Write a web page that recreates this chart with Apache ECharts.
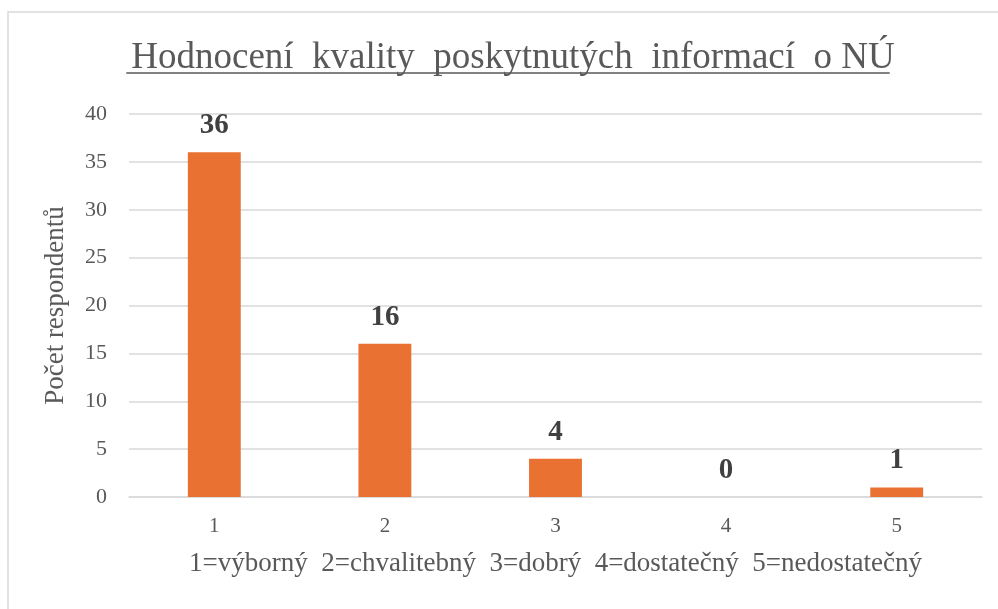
<!DOCTYPE html>
<html>
<head>
<meta charset="utf-8">
<script src="https://cdn.jsdelivr.net/npm/echarts@6/dist/echarts.min.js"></script>
<style>
  html, body { margin: 0; padding: 0; background: #fff; }
  #chart { width: 998px; height: 609px; }
</style>
</head>
<body>
<div id="chart"></div>
<script>
const titleText = 'Hodnocení  kvality  poskytnutých  informací  o NÚ';
const categories = ['1', '2', '3', '4', '5'];
const values = [36, 16, 4, 0, 1];
const yTicks = { min: 0, max: 40, interval: 5 };
const xName = '1=výborný  2=chvalitebný  3=dobrý  4=dostatečný  5=nedostatečný';
const yName = 'Počet respondentů';

const font = '"Liberation Serif", "Times New Roman", serif';
const textColor = '#595959';
const titleSize = 37;

// width of title for the underline
function textWidth(str, size) {
    const ctx = document.createElement('canvas').getContext('2d');
    ctx.font = size + 'px ' + font;
    return ctx.measureText(str).width;
}

const chart = echarts.init(document.getElementById('chart'));
const tw = textWidth(titleText, titleSize);
const cx = 508;

const option = {
    backgroundColor: '#fff',
    animation: false,
    title: {
        text: titleText,
        left: cx,
        textAlign: 'center',
        top: 35,
        textStyle: {
            fontFamily: font,
            fontSize: titleSize,
            fontWeight: 'normal',
            color: textColor
        }
    },
    graphic: [
        {
            type: 'rect',
            shape: { x: 8, y: 12, width: 1200, height: 1200 },
            style: { fill: null, stroke: '#D9D9D9', lineWidth: 1.5 },
            silent: true
        },
        {
            type: 'line',
            shape: { x1: cx - tw / 2, y1: 73, x2: cx + tw / 2, y2: 73 },
            style: { stroke: textColor, lineWidth: 1.5 },
            silent: true
        }
    ],
    grid: {
        left: 129,
        right: 16,
        top: 114,
        bottom: 112
    },
    xAxis: {
        type: 'category',
        data: categories,
        name: xName,
        nameLocation: 'middle',
        nameGap: 53,
        nameTextStyle: {
            fontFamily: font,
            fontSize: 27,
            color: textColor
        },
        axisLine: { lineStyle: { color: '#D9D9D9', width: 1.5 } },
        axisTick: { show: false },
        axisLabel: {
            fontFamily: font,
            fontSize: 21,
            color: textColor,
            margin: 19
        }
    },
    yAxis: {
        type: 'value',
        min: yTicks.min,
        max: yTicks.max,
        interval: yTicks.interval,
        name: yName,
        nameLocation: 'middle',
        nameGap: 60,
        nameTextStyle: {
            fontFamily: font,
            fontSize: 27,
            color: textColor
        },
        axisLabel: {
            fontFamily: font,
            fontSize: 22,
            color: textColor,
            margin: 22
        },
        splitLine: { lineStyle: { color: '#D9D9D9', width: 1.5 } }
    },
    series: [{
        type: 'bar',
        data: values,
        barWidth: '31%',
        itemStyle: { color: '#E97132' },
        label: {
            show: true,
            position: 'top',
            distance: 12,
            fontFamily: font,
            fontSize: 29,
            fontWeight: 'bold',
            color: '#404040'
        }
    }]
};

chart.setOption(option);
</script>
</body>
</html>
